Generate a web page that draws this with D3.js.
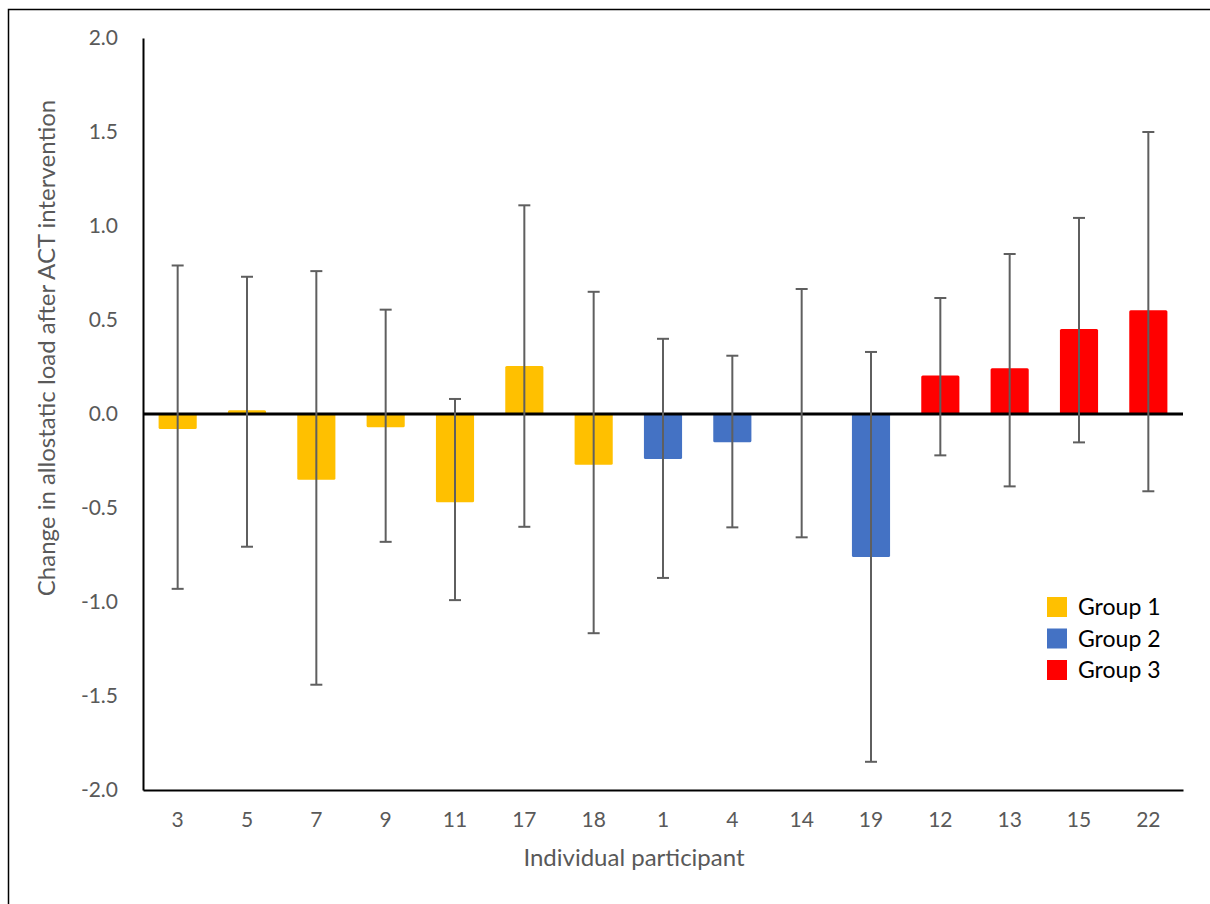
<!DOCTYPE html>
<html>
<head>
<meta charset="utf-8">
<script src="https://cdn.jsdelivr.net/npm/d3@7"></script>
<style>
  body { margin: 0; background: #fff; }
  text { font-family: Lato, "Open Sans", sans-serif; }
</style>
</head>
<body>
<div id="app"></div>
<script>
// participants in plotted order, with their group
const participants = ["3", "5", "7", "9", "11", "17", "18", "1", "4", "14", "19", "12", "13", "15", "22"];
const groups = [1, 1, 1, 1, 1, 1, 1, 2, 2, 2, 2, 3, 3, 3, 3];
const changes = [-0.08, 0.02, -0.35, -0.07, -0.47, 0.255, -0.27, -0.24, -0.15, 0, -0.76, 0.205, 0.243, 0.452, 0.552];
const errUpper = [0.79, 0.73, 0.76, 0.555, 0.08, 1.11, 0.65, 0.40, 0.31, 0.665, 0.33, 0.617, 0.851, 1.043, 1.50];
const errLower = [-0.93, -0.706, -1.44, -0.68, -0.99, -0.60, -1.166, -0.872, -0.603, -0.656, -1.85, -0.22, -0.385, -0.151, -0.411];
const yTicks = [2.0, 1.5, 1.0, 0.5, 0.0, -0.5, -1.0, -1.5, -2.0];
const groupNames = ["Group 1", "Group 2", "Group 3"];
const groupColors = ["#FFC000", "#4472C4", "#FF0000"];

const width = 1210, height = 904;
const margin = { top: 38, right: 27, bottom: 114, left: 143 };

const rows = participants.map((p, i) => ({
  id: p, group: groups[i], value: changes[i], hi: errUpper[i], lo: errLower[i]
}));

const svg = d3.select("#app")
  .append("svg")
  .attr("width", width)
  .attr("height", height);

// outer frame (runs off the right and bottom edge)
svg.append("rect")
  .attr("x", 8.5).attr("y", 9.5)
  .attr("width", 1230).attr("height", 930)
  .attr("fill", "none")
  .attr("stroke", "#000")
  .attr("stroke-width", 1.5);

const x = d3.scaleBand()
  .domain(participants)
  .range([margin.left, width - margin.right])
  .paddingInner(0.45)
  .paddingOuter(0.225);

const y = d3.scaleLinear()
  .domain([-2, 2])
  .range([height - margin.bottom, margin.top]);

const color = d3.scaleOrdinal().domain([1, 2, 3]).range(groupColors);

// bars
svg.append("g")
  .selectAll("rect")
  .data(rows.filter(d => d.value !== 0))
  .join("rect")
  .attr("x", d => x(d.id))
  .attr("width", x.bandwidth())
  .attr("y", d => y(Math.max(0, d.value)))
  .attr("height", d => Math.abs(y(d.value) - y(0)))
  .attr("rx", 1.5)
  .attr("fill", d => color(d.group));

// y axis (plain hyphen for negatives, like the original)
const fmt = d => d3.format(".1f")(d).replace("\u2212", "-");
const yAxis = svg.append("g")
  .attr("transform", `translate(${margin.left},0)`)
  .call(d3.axisLeft(y).tickValues(yTicks).tickFormat(fmt).tickSize(0).tickPadding(25));
yAxis.select(".domain").attr("stroke", "#000").attr("stroke-width", 2);
yAxis.selectAll("text")
  .attr("fill", "#595959")
  .style("font-size", "21px");

// x axis at the bottom of the plot
const xAxis = svg.append("g")
  .attr("transform", `translate(0,${y(-2)})`)
  .call(d3.axisBottom(x).tickSize(0).tickPadding(22));
xAxis.select(".domain").attr("stroke", "#000").attr("stroke-width", 2);
xAxis.selectAll("text")
  .attr("fill", "#595959")
  .style("font-size", "21px");

// zero line
svg.append("line")
  .attr("x1", margin.left).attr("x2", width - margin.right)
  .attr("y1", y(0)).attr("y2", y(0))
  .attr("stroke", "#000")
  .attr("stroke-width", 3);

// error bars
const err = svg.append("g")
  .attr("stroke", "#5f5f5f")
  .attr("stroke-width", 2);
const cx = d => x(d.id) + x.bandwidth() / 2;

err.selectAll(".stem")
  .data(rows)
  .join("line")
  .attr("class", "stem")
  .attr("x1", cx).attr("x2", cx)
  .attr("y1", d => y(d.hi)).attr("y2", d => y(d.lo));

err.selectAll(".capHi")
  .data(rows)
  .join("line")
  .attr("class", "capHi")
  .attr("x1", d => cx(d) - 6).attr("x2", d => cx(d) + 6)
  .attr("y1", d => y(d.hi)).attr("y2", d => y(d.hi));

err.selectAll(".capLo")
  .data(rows)
  .join("line")
  .attr("class", "capLo")
  .attr("x1", d => cx(d) - 6).attr("x2", d => cx(d) + 6)
  .attr("y1", d => y(d.lo)).attr("y2", d => y(d.lo));

// axis titles
svg.append("text")
  .attr("transform", `translate(55,348) rotate(-90)`)
  .attr("text-anchor", "middle")
  .attr("fill", "#595959")
  .style("font-size", "24px")
  .text("Change in allostatic load after ACT intervention");

svg.append("text")
  .attr("x", 634)
  .attr("y", 866)
  .attr("text-anchor", "middle")
  .attr("fill", "#595959")
  .style("font-size", "24px")
  .text("Individual participant");

// legend
const legend = svg.append("g")
  .attr("transform", "translate(1047,597)")
  .selectAll("g")
  .data(groupNames)
  .join("g")
  .attr("transform", (d, i) => `translate(0,${i * 31.5})`);

legend.append("rect")
  .attr("width", 20).attr("height", 20)
  .attr("fill", (d, i) => groupColors[i]);

legend.append("text")
  .attr("x", 31)
  .attr("y", 10)
  .attr("dy", "0.35em")
  .attr("fill", "#000")
  .style("font-size", "23px")
  .text(d => d);
</script>
</body>
</html>
